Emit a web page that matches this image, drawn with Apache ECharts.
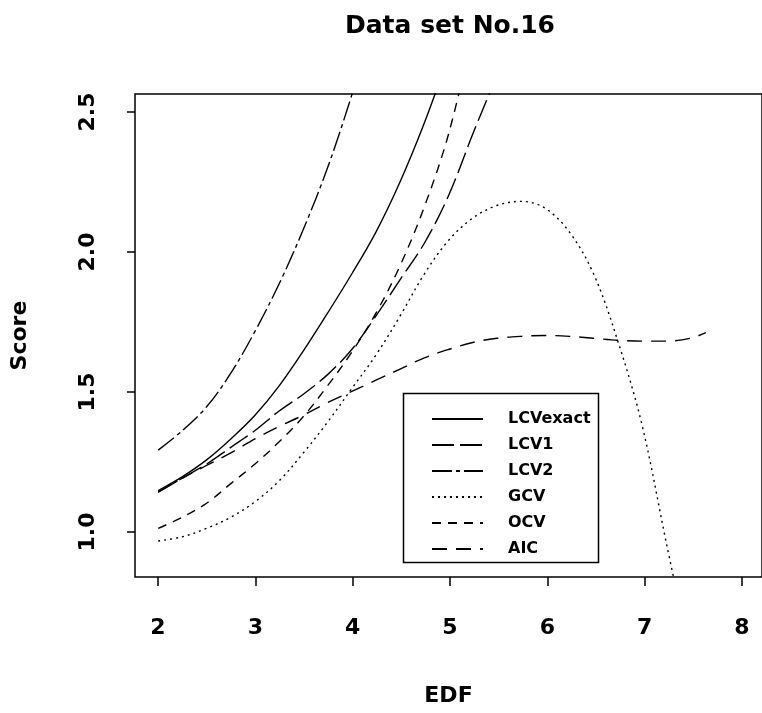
<!DOCTYPE html>
<html><head><meta charset="utf-8">
<script src="https://cdn.jsdelivr.net/npm/echarts@6/dist/echarts.min.js"></script>
<style>html,body{margin:0;padding:0;background:#fff}#c{width:762px;height:713px}</style>
</head><body><div id="c"></div>
<script>
// EDF grid shared by all curves
const edf = [2.00, 2.25, 2.50, 2.75, 3.00, 3.25, 3.50, 3.75, 4.00, 4.25, 4.50, 4.75, 5.00, 5.25, 5.50, 5.75, 6.00, 6.25, 6.50, 6.75, 7.00, 7.25, 7.50, 7.66];
const lcvExact = [1.145, 1.195, 1.255, 1.33, 1.415, 1.52, 1.645, 1.78, 1.92, 2.07, 2.25, 2.46, 2.70];
const lcv1 = [1.14, 1.19, 1.24, 1.30, 1.36, 1.43, 1.49, 1.56, 1.65, 1.77, 1.90, 2.03, 2.20, 2.42, 2.63];
const lcv2 = [1.29, 1.36, 1.445, 1.565, 1.715, 1.885, 2.08, 2.30, 2.56, 2.85];
const gcv = [0.965, 0.98, 1.01, 1.05, 1.105, 1.18, 1.28, 1.39, 1.51, 1.63, 1.77, 1.92, 2.04, 2.12, 2.165, 2.18, 2.155, 2.07, 1.92, 1.68, 1.38, 0.96, 0.55];
const ocv = [1.01, 1.05, 1.10, 1.17, 1.24, 1.32, 1.41, 1.52, 1.64, 1.78, 1.95, 2.16, 2.42, 2.78];
const aic = [1.14, 1.19, 1.235, 1.28, 1.33, 1.375, 1.415, 1.46, 1.50, 1.54, 1.58, 1.62, 1.65, 1.675, 1.69, 1.697, 1.70, 1.697, 1.69, 1.683, 1.68, 1.68, 1.69, 1.71];
const seriesNames = ['LCVexact', 'LCV1', 'LCV2', 'GCV', 'OCV', 'AIC'];
const xTickLabels = ['2', '3', '4', '5', '6', '7', '8'];
const yTickLabels = ['1.0', '1.5', '2.0', '2.5'];

const FONT = 'DejaVu Sans';
const dashes = {
  LCVexact: 'solid',
  LCV1: [22, 6],
  LCV2: [20, 4, 4, 4],
  GCV: [2, 4],
  OCV: [9, 7],
  AIC: [15, 9]
};
const values = [lcvExact, lcv1, lcv2, gcv, ocv, aic];

function pairs(arr) {
  const out = [];
  for (let i = 0; i < arr.length; i++) if (arr[i] != null) out.push([edf[i], arr[i]]);
  return out;
}

const chart = echarts.init(document.getElementById('c'), null, {renderer: 'canvas'});
const option = {
  animation: false,
  backgroundColor: '#fff',
  title: {
    text: 'Data set No.16',
    left: 450, top: 14, textAlign: 'center', padding: 0,
    textStyle: {fontFamily: FONT, fontWeight: 'bold', fontSize: 25, color: '#000'}
  },
  legend: {
    orient: 'vertical',
    left: 426, top: 406,
    itemWidth: 51, itemHeight: 14, itemGap: 10,
    data: seriesNames,
    itemStyle: {opacity: 0},
    textStyle: {fontFamily: FONT, fontWeight: 'bold', fontSize: 16, lineHeight: 16, color: '#000', padding: [0, 0, 0, 20]}
  },
  graphic: [{
    type: 'rect', left: 401, top: 391, z: 10,
    shape: {width: 195, height: 169},
    style: {fill: null, stroke: '#000', lineWidth: 1.5}
  }],
  grid: [
    {left: 135, top: 94, width: 630, height: 483, show: true, borderColor: '#000', borderWidth: 1.5, backgroundColor: 'transparent'},
    {left: 158, top: 112, width: 584, height: 420, show: false}
  ],
  xAxis: [
    {gridIndex: 0, type: 'value', min: 1.76, max: 8.24, show: true,
     axisLine: {show: false}, axisTick: {show: false}, axisLabel: {show: false}, splitLine: {show: false},
     name: 'EDF', nameLocation: 'middle', nameGap: 108,
     nameTextStyle: {fontFamily: FONT, fontWeight: 'bold', fontSize: 22, color: '#000'}},
    {gridIndex: 1, type: 'value', min: 2, max: 8, interval: 1, position: 'bottom', offset: 45,
     axisLine: {show: false},
     axisTick: {show: true, length: 9, lineStyle: {color: '#000', width: 1.5}},
     splitLine: {show: false},
     axisLabel: {margin: 40, fontFamily: FONT, fontWeight: 'bold', fontSize: 22, color: '#000',
       formatter: v => xTickLabels[Math.round(v) - 2]}}
  ],
  yAxis: [
    {gridIndex: 0, type: 'value', min: 0.836, max: 2.564, show: true,
     axisLine: {show: false}, axisTick: {show: false}, axisLabel: {show: false}, splitLine: {show: false},
     name: 'Score', nameLocation: 'middle', nameGap: 104,
     nameTextStyle: {fontFamily: FONT, fontWeight: 'bold', fontSize: 22, color: '#000'}},
    {gridIndex: 1, type: 'value', min: 1.0, max: 2.5, interval: 0.5, position: 'left', offset: 23,
     axisLine: {show: false},
     axisTick: {show: true, length: 8, lineStyle: {color: '#000', width: 1.5}},
     splitLine: {show: false},
     axisLabel: {rotate: 90, margin: 36, fontFamily: FONT, fontWeight: 'bold', fontSize: 22, color: '#000',
       formatter: v => yTickLabels[Math.round((v - 1) * 2)]}}
  ],
  series: seriesNames.map((name, i) => ({
    name: name,
    type: 'line',
    xAxisIndex: 0, yAxisIndex: 0,
    data: pairs(values[i]),
    symbol: 'none',
    smooth: 0.35,
    clip: true,
    lineStyle: {color: '#000', width: 1.4, type: dashes[name]},
    itemStyle: {color: '#000'}
  }))
};
chart.setOption(option);
</script>
</body></html>
